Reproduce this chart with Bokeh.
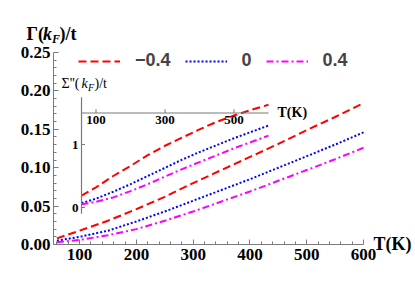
from bokeh.plotting import figure
from bokeh.models import Range1d, FixedTicker, Label
from bokeh.embed import file_html
from bokeh.resources import INLINE
from bokeh.core.properties import value

# ---------------- data ----------------
T = [60, 100, 150, 200, 250, 300, 350, 400, 450, 500, 550, 600]
gamma_m04 = [0.008, 0.018, 0.031, 0.046, 0.062, 0.080, 0.097, 0.114, 0.131, 0.149, 0.166, 0.184]
gamma_0 = [0.005, 0.010, 0.018, 0.030, 0.043, 0.057, 0.071, 0.085, 0.100, 0.115, 0.130, 0.146]
gamma_p04 = [0.003, 0.006, 0.012, 0.020, 0.031, 0.043, 0.056, 0.069, 0.083, 0.097, 0.111, 0.126]

T_inset = [58, 100, 150, 200, 250, 300, 350, 400, 450, 500, 550, 600]
sigma_m04 = [0.19, 0.32, 0.50, 0.66, 0.83, 0.98, 1.11, 1.24, 1.36, 1.46, 1.55, 1.63]
sigma_0 = [0.07, 0.14, 0.25, 0.37, 0.50, 0.63, 0.76, 0.88, 0.99, 1.10, 1.20, 1.30]
sigma_p04 = [0.05, 0.09, 0.16, 0.26, 0.37, 0.49, 0.61, 0.72, 0.83, 0.94, 1.04, 1.14]

series_labels = ["\u22120.4", "0", "0.4"]
x_ticks = [100, 200, 300, 400, 500, 600]
x_minor = [60, 80, 120, 140, 160, 180, 220, 240, 260, 280, 320, 340, 360, 380,
           420, 440, 460, 480, 520, 540, 560, 580]
y_ticks = [0.0, 0.05, 0.10, 0.15, 0.20, 0.25]
y_tick_labels = {0.0: "0.00", 0.05: "0.05", 0.10: "0.10", 0.15: "0.15", 0.20: "0.20", 0.25: "0.25"}
y_minor = [0.01, 0.02, 0.03, 0.04, 0.06, 0.07, 0.08, 0.09, 0.11, 0.12, 0.13, 0.14,
           0.16, 0.17, 0.18, 0.19, 0.21, 0.22, 0.23, 0.24]

inset_x_ticks = [100, 300, 500]
inset_x_tick_labels = ["100", "300", "500"]
inset_y_ticks = [0, 1]
inset_y_tick_labels = ["0", "1"]
inset_x_start, inset_x_end = 58, 600
inset_y_start, inset_y_end = -0.1, 1.75
inset_axis_y = 1.5

colors = ["#ff0000", "#0000ff", "#ff00ff"]
dashes = ["8 4", "2 2", "7 3 2 3"]

# ---------------- geometry ----------------
OFF = 0                  # page offset of the canvas (Bokeh template has no body margin)
W, H = 413, 295
X0, X1 = 54, 600         # main axis extent (data)
Y0, Y1 = 0.0, 0.25
AL, AR, AT, AB = 53, 363, 52, 244  # page px of the main axis box
sxp = (X1 - X0) / (AR - AL)
syp = (Y1 - Y0) / (AB - AT)


def fx(px):
    return X0 + (px - AL) * sxp


def fy(py):
    return Y0 + (AB - py) * syp


p = figure(width=W, height=H,
           x_range=Range1d(fx(OFF), fx(OFF + W)), y_range=Range1d(fy(OFF + H), fy(OFF)),
           output_backend="svg", toolbar_location=None,
           min_border_left=0, min_border_right=0, min_border_top=0, min_border_bottom=0)
p.outline_line_color = None
p.grid.visible = False
p.background_fill_color = "white"
p.border_fill_color = "white"

axis_gray = "#7a7a7a"
for ax in (p.xaxis[0], p.yaxis[0]):
    ax.axis_line_color = axis_gray
    ax.major_tick_line_color = axis_gray
    ax.minor_tick_line_color = axis_gray
    ax.major_tick_in = 5
    ax.major_tick_out = 0
    ax.minor_tick_in = 3
    ax.minor_tick_out = 0
    ax.major_label_text_font = "Liberation Serif"
    ax.major_label_text_font_style = "bold"
    ax.major_label_text_font_size = "17px"
    ax.major_label_text_color = "black"

p.xaxis.fixed_location = Y0
p.yaxis.fixed_location = X0
p.xaxis.bounds = (X0, X1)
p.yaxis.bounds = (Y0, Y1)
p.xaxis.ticker = FixedTicker(ticks=x_ticks, minor_ticks=x_minor)
p.yaxis.ticker = FixedTicker(ticks=y_ticks, minor_ticks=y_minor)
p.yaxis.major_label_overrides = y_tick_labels
p.xaxis.major_label_standoff = 4
p.yaxis.major_label_standoff = 3

# main curves
for ys, c, d, lab in zip([gamma_m04, gamma_0, gamma_p04], colors, dashes, series_labels):
    p.line(T, ys, color=c, line_width=2, line_dash=d, legend_label=lab)

leg = p.legend[0]
leg.orientation = "horizontal"
leg.location = (78 - OFF, OFF + H - 71)
leg.glyph_width = 42
leg.glyph_height = 16
leg.label_height = 16
leg.label_width = 1
leg.label_standoff = 15
leg.spacing = 14
leg.padding = 0
leg.margin = 0
leg.border_line_color = None
leg.background_fill_alpha = 0
leg.label_text_font = "Liberation Sans"
leg.label_text_font_style = "bold"
leg.label_text_font_size = "18px"

# ---------------- inset via sub-coordinates ----------------
sp = p.subplot(
    x_source=Range1d(100, 500), y_source=Range1d(0, 1),
    x_target=Range1d(fx(95.5), fx(233.5)), y_target=Range1d(fy(207), fy(144)),
)
for ys, c, d in zip([sigma_m04, sigma_0, sigma_p04], colors, dashes):
    sp.line(T_inset, ys, color=c, line_width=2, line_dash=d)

sp.segment(x0=[inset_x_start, inset_x_start], y0=[inset_axis_y, inset_y_start],
           x1=[inset_x_end, inset_x_start], y1=[inset_axis_y, inset_y_end],
           color=axis_gray, line_width=1.2)
sp.segment(x0=inset_x_ticks, y0=[inset_axis_y] * len(inset_x_ticks),
           x1=inset_x_ticks, y1=[inset_axis_y + 0.06] * len(inset_x_ticks),
           color=axis_gray, line_width=1)
sp.segment(x0=[inset_x_start] * len(inset_y_ticks), y0=inset_y_ticks,
           x1=[inset_x_start + 10] * len(inset_y_ticks), y1=inset_y_ticks,
           color=axis_gray, line_width=1)
sp.text(x=inset_x_ticks, y=[inset_axis_y] * len(inset_x_ticks), text=inset_x_tick_labels,
        text_align="center", text_baseline="top", y_offset=3,
        text_font=value("Liberation Serif"), text_font_style="bold",
        text_font_size="13px", text_color="black")
sp.text(x=[inset_x_start] * len(inset_y_ticks), y=inset_y_ticks, text=inset_y_tick_labels,
        text_align="right", text_baseline="middle", x_offset=-3,
        text_font=value("Liberation Serif"), text_font_style="bold",
        text_font_size="13px", text_color="black")


# ---------------- text labels ----------------
def add_text(px, py, text, size, style="bold", font="Liberation Serif"):
    p.add_layout(Label(x=fx(px), y=fy(py), text=text, text_font=font,
                       text_font_style=style, text_font_size=size,
                       text_baseline="middle", text_align="left", text_color="black"))


# y-axis title  Γ(k_F)/t
add_text(26, 33, "\u0393(", "18px")
add_text(42.5, 33, "k", "18px", style="bold italic")
add_text(51.5, 38, "F", "12px", style="bold italic")
add_text(59, 33, ")/t", "18px")

# x-axis title
add_text(373, 243, "T(K)", "18px")
# inset titles
add_text(277, 112, "T(K)", "14px")
add_text(61, 83, "\u03a3''(", "14px", style="normal")
add_text(81, 83, "k", "14px", style="italic")
add_text(87.5, 87, "F", "10px", style="italic")
add_text(94, 83, ")/t", "14px", style="normal")

open("out.html", "w").write(file_html(p, INLINE))
